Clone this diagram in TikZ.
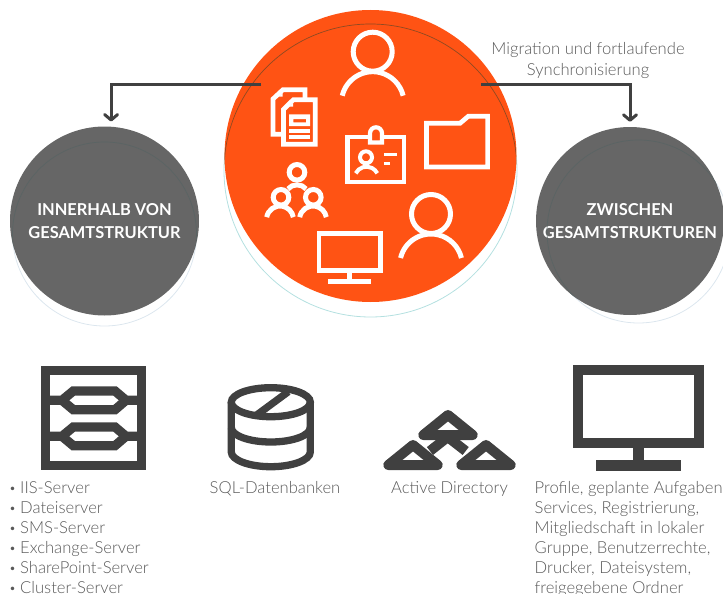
\documentclass[tikz,border=0pt]{standalone}
\usepackage{fontspec}
\setmainfont{Lato Light}[BoldFont={Lato Bold}]
\usetikzlibrary{arrows.meta}
\definecolor{orng}{HTML}{FF5314}
\definecolor{disc}{HTML}{666666}
\definecolor{ink}{HTML}{404040}
\definecolor{txt}{HTML}{595959}
\definecolor{tealring}{HTML}{B4E0E0}
\definecolor{bluering}{HTML}{DCE6EE}
\definecolor{brownring}{HTML}{8F4A22}
\definecolor{slatering}{HTML}{5A6464}
\newcommand{\arcicon}[5]{(#1,#2) ++(#4:#3) arc[start angle=#4,end angle=#5,radius=#3]}
\newcommand{\personicon}[2]{%
  \draw[wicon,line width=5pt] (#1,#2) circle[radius=19.5];
  \draw[wicon,line width=5pt] \arcicon{#1}{#2+51.3}{31.3}{193.5}{346.5};}
\newcommand{\blt}{\makebox[11pt][l]{\raisebox{1pt}{\fontsize{12}{12}\selectfont•}}}
\tikzset{
  disk/.style={circle,fill=disc,inner sep=0pt,text=white,align=center,font=\fontsize{16.4}{22.4}\selectfont\bfseries},
  wicon/.style={draw=white,line width=4.4pt,miter limit=10},
  dicon/.style={draw=ink,line width=9.3pt},
  conn/.style={draw=ink,line width=3pt,-{Straight Barb[round,length=5.5pt,width=13pt]},shorten >=5pt},
  body/.style={text=txt,font=\fontsize{16.6}{20}\selectfont,inner sep=0pt,anchor=base west},
  cbody/.style={text=txt,font=\fontsize{16.6}{20}\selectfont,inner sep=0pt,anchor=base},
}
\begin{document}
\begin{tikzpicture}[x=1pt,y=-1pt]
\useasboundingbox (0,0) rectangle (723,594);
% shadow rings
\draw[tealring,line width=.8pt] (370.5,170.5) circle[radius=146.5];
\draw[bluering,line width=.8pt] (104.5,234) circle[radius=92];
\draw[bluering,line width=.8pt] (638.5,231.5) circle[radius=91.5];
% discs
\node[circle,fill=orng,minimum size=292pt,inner sep=0pt] (centre) at (370.5,156) {};
\node[disk,minimum size=189pt] (inner) at (104.5,221) {INNERHALB VON\\GESAMTSTRUKTUR};
\node[disk,minimum size=188pt] (cross) at (630,221) {ZWISCHEN\\GESAMTSTRUKTUREN};
\begin{scope}
\clip (370.5,156) circle[radius=146];
\draw[brownring,line width=.7pt] (370.5,170.5) circle[radius=146.5];
\end{scope}
\begin{scope}
\clip (104.5,220.5) circle[radius=94.5];
\draw[slatering,line width=.7pt] (104.5,234) circle[radius=92];
\end{scope}
\begin{scope}
\clip (630,221) circle[radius=94];
\draw[slatering,line width=.7pt] (638.5,231.5) circle[radius=91.5];
\end{scope}
% connectors
\coordinate (startl) at (261,84.5);
\coordinate (startr) at (481,84.5);
\draw[conn] (startl) -| (inner.86);
\draw[conn] (startr) -| (cross.north);
% label
\node[cbody] (miglabel1) at (588,55) {Migration und fortlaufende};
\node[cbody] (miglabel2) at (588,75.7) {Synchronisierung};
% white icons
\personicon{372.7}{51.7}
\personicon{431}{214}
% folder
\draw[wicon,line width=4.7pt] (426.4,123.3) -- (460,123.3) -- (468.3,116.3) -- (487.6,116.3) -- (487.6,167) -- (426.4,167) -- cycle;
% small monitor
\draw[wicon,line width=4.7pt] (319,233.3) rectangle (380.3,270.3);
\draw[wicon,line width=4.7pt] (349.5,272) -- (349.5,279);
\draw[wicon,line width=5.3pt] (328,281.3) -- (371,281.3);
% badge
\draw[wicon] (347.5,137.2) rectangle (403.8,181.8);
\draw[wicon,fill=orng,line width=4.2pt] (370,142.5) -- (370,133.3) arc[start angle=180,end angle=360,radius=6] -- (382,142.5) -- cycle;
\draw[wicon,line width=4pt] (366,157.3) circle[radius=6];
\draw[wicon,line width=4pt] \arcicon{366.5}{178.8}{12.1}{207}{333};
\draw[wicon,line width=3.3pt] (384.3,154.2) -- (396.7,154.2);
\draw[wicon,line width=3.3pt] (384.3,163.8) -- (390,163.8);
% documents
\draw[wicon,line width=4.7pt,fill=orng] (273,99) -- (283,89.7) -- (305,89.7) -- (305,134.3) -- (273,134.3) -- cycle;
\draw[wicon,line width=4.7pt,fill=orng] (283.4,109.5) -- (293.4,99.7) -- (315.3,99.7) -- (315.3,144.3) -- (283.4,144.3) -- cycle;
\fill[white] (279,96.5) -- (282.5,93) -- (282.5,96.5) -- cycle;
\fill[white] (289.5,106.5) -- (293,103) -- (293,106.5) -- cycle;
\fill[white,even odd rule] (289,114.3) rectangle (310,126) (293.3,119) rectangle (306,122.3);
\fill[white] (289,129.3) rectangle (310,133.3);
\fill[white] (289,135) rectangle (310,139.3);
% group
\draw[wicon,line width=5pt] (297,172.3) circle[radius=7.8];
\draw[wicon,line width=5pt] (281,197.3) circle[radius=7.8];
\draw[wicon,line width=5pt] (313.3,197.3) circle[radius=7.8];
\draw[wicon,line width=5pt] \arcicon{280}{219.5}{13.5}{190}{350};
\draw[wicon,line width=5pt] \arcicon{313}{219.5}{13.5}{190}{350};
\draw[wicon,line width=5pt] (288,189) .. controls (292,183.5) and (302,183.5) .. (306,189);
% server icon
\draw[dicon] (45.8,370.8) rectangle (141.5,465.8);
\draw[dicon] (45.8,400.3) -- (62,400.3) -- (73.3,391) -- (115,391) -- (126,400.3) -- (141.5,400.3);
\draw[dicon] (62,400.3) -- (73.3,409.7) -- (115,409.7) -- (126,400.3);
\draw[dicon] (45.8,436.3) -- (62,436.3) -- (73.3,427) -- (115,427) -- (126,436.3) -- (141.5,436.3);
\draw[dicon] (62,436.3) -- (73.3,445.7) -- (115,445.7) -- (126,436.3);
% database icon
\begin{scope}[line width=7.3pt,ink]
\draw (270.8,402.2) ellipse[x radius=39.5,y radius=14.5];
\draw (231.3,402.2) -- (231.3,452) .. controls (231.3,460) and (249,466.7) .. (270.8,466.7) .. controls (292.6,466.7) and (310.3,460) .. (310.3,452) -- (310.3,402.2);
\draw (231.3,427.5) .. controls (231.3,435.5) and (249,442) .. (270.8,442) .. controls (292.6,442) and (310.3,435.5) .. (310.3,427.5);
\draw (256.7,415) -- (288.3,391.7);
\end{scope}
% directory icon
\begin{scope}[line width=10pt,ink,line join=round,line cap=round]
\draw (448,415) -- (423.3,435) -- (472.7,435) -- cycle;
\draw (413,445) -- (388.3,465) -- (437.7,465) -- cycle;
\draw (486,445) -- (461.3,465) -- (510.7,465) -- cycle;
\draw[line cap=butt] (430,451) -- (447.7,437) -- (465.7,451);
\end{scope}
% big monitor
\draw[ink,line width=10.3pt] (577.8,370) rectangle (699.2,443);
\fill[ink] (633.3,448) rectangle (644,461);
\fill[ink] (596,460) rectangle (681.3,470.7);
% texts
\node[body] (l1) at (9,493) {\blt IIS-Server};
\node[body] (l2) at (9,513) {\blt Dateiserver};
\node[body] (l3) at (9,533) {\blt SMS-Server};
\node[body] (l4) at (9,553) {\blt Exchange-Server};
\node[body] (l5) at (9,573) {\blt SharePoint-Server};
\node[body] (l6) at (9,593) {\blt Cluster-Server};
\node[cbody] (sql) at (275,493) {SQL-Datenbanken};
\node[cbody] (ad) at (449.5,493) {Active Directory};
\node[body] (r1) at (534.5,493) {Profile, geplante Aufgaben};
\node[body] (r2) at (534.5,513) {Services, Registrierung,};
\node[body] (r3) at (534.5,533) {Mitgliedschaft in lokaler};
\node[body] (r4) at (534.5,553) {Gruppe, Benutzerrechte,};
\node[body] (r5) at (534.5,573) {Drucker, Dateisystem,};
\node[body] (r6) at (534.5,593) {freigegebene Ordner};
\end{tikzpicture}
\end{document}
